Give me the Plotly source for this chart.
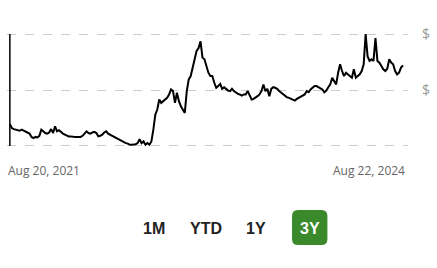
import plotly.graph_objects as go
import pandas as pd

start_date = "2021-08-20"
end_date = "2024-08-22"
prices = [
    0.39, 0.32, 0.30, 0.29, 0.28, 0.27, 0.29, 0.27, 0.26, 0.24, 0.22, 0.16, 0.14, 0.16, 0.15, 0.18, 0.29, 0.26, 0.23, 0.22,
    0.24, 0.30, 0.23, 0.35, 0.26, 0.28, 0.24, 0.22, 0.20, 0.18, 0.17, 0.17, 0.16, 0.16, 0.16, 0.16, 0.16, 0.18, 0.23, 0.26,
    0.23, 0.22, 0.24, 0.25, 0.23, 0.17, 0.18, 0.20, 0.24, 0.26, 0.22, 0.20, 0.18, 0.16, 0.14, 0.12, 0.11, 0.09, 0.07, 0.05,
    0.04, 0.02, 0.02, 0.02, 0.03, 0.05, 0.12, 0.05, 0.08, 0.02, 0.05, 0.02, 0.08, 0.29, 0.56, 0.65, 0.83, 0.77, 0.80, 0.83,
    0.86, 0.92, 1.01, 0.98, 0.77, 0.95, 0.80, 0.71, 0.65, 0.59, 0.98, 1.19, 1.25, 1.43, 1.55, 1.70, 1.75, 1.87, 1.58, 1.55,
    1.43, 1.31, 1.25, 1.25, 1.13, 1.04, 1.07, 1.11, 1.02, 1.05, 1.02, 0.99, 0.98, 1.02, 0.98, 0.95, 0.93, 0.92, 0.90, 0.92,
    0.92, 0.98, 0.89, 0.83, 0.84, 0.86, 0.89, 0.92, 0.98, 1.10, 0.98, 1.02, 0.89, 1.02, 1.05, 1.04, 1.02, 0.98, 0.95, 0.93,
    0.90, 0.87, 0.86, 0.84, 0.83, 0.81, 0.84, 0.86, 0.87, 0.89, 0.92, 0.98, 0.96, 1.01, 1.05, 1.07, 1.07, 1.05, 1.04, 1.01,
    0.96, 0.99, 1.05, 1.10, 1.22, 1.16, 1.10, 1.31, 1.46, 1.34, 1.25, 1.31, 1.28, 1.25, 1.22, 1.37, 1.22, 1.25, 1.28, 1.34,
    1.46, 2.00, 1.60, 1.52, 1.55, 1.52, 1.93, 1.52, 1.49, 1.43, 1.37, 1.34, 1.38, 1.55, 1.49, 1.46, 1.34, 1.28, 1.31, 1.40,
    1.44,
]
dates = pd.date_range(start_date, end_date, periods=len(prices))
y_ticks = [0, 1, 2]
y_tick_text = ["", "$", "$"]
buttons = ["1M", "YTD", "1Y", "3Y"]
active_button = "3Y"

W, H = 437, 268
L, R, T, B = 7, 22, 33, 121
PW, PH = W - L - R, H - T - B

def px(x):
    return (x - L) / PW

def py(y):
    return (H - B - y) / PH

fig = go.Figure()
fig.add_trace(go.Scatter(x=dates, y=prices, mode="lines",
                         line=dict(color="#000000", width=2),
                         hoverinfo="skip"))

shapes = [dict(type="line", xref="x", yref="y", x0=dates[0], x1=dates[0],
               y0=y_ticks[0], y1=y_ticks[-1], line=dict(color="#000000", width=1.5))]

# rounded green box for active button
bx0, bx1, by0, by1, r = 297, 333, 210, 245, 6
def P(x, y):
    return f"{px(x):.5f},{py(y):.5f}"
path = (f"M {P(bx0 + r, by0)} L {P(bx1 - r, by0)} Q {P(bx1, by0)} {P(bx1, by0 + r)} "
        f"L {P(bx1, by1 - r)} Q {P(bx1, by1)} {P(bx1 - r, by1)} "
        f"L {P(bx0 + r, by1)} Q {P(bx0, by1)} {P(bx0, by1 - r)} "
        f"L {P(bx0, by0 + r)} Q {P(bx0, by0)} {P(bx0 + r, by0)} Z")
shapes.append(dict(type="path", xref="paper", yref="paper", path=path,
                   fillcolor="#3a8a2c", line=dict(width=0), layer="below"))

annotations = [
    dict(text="Aug 20, 2021", xref="paper", yref="paper", x=px(6), y=py(170),
         xanchor="left", yanchor="middle", showarrow=False,
         font=dict(family="Open Sans", size=12, color="#666666")),
    dict(text="Aug 22, 2024", xref="paper", yref="paper", x=px(414), y=py(170),
         xanchor="right", yanchor="middle", showarrow=False,
         font=dict(family="Open Sans", size=12, color="#666666")),
]
button_x = [157, 209, 260, 315]
for name, bx in zip(buttons, button_x):
    annotations.append(dict(
        text=f"<b>{name}</b>", xref="paper", yref="paper", x=px(bx), y=py(228),
        xanchor="center", yanchor="middle", showarrow=False,
        font=dict(family="Liberation Sans", size=16,
                  color="#ffffff" if name == active_button else "#222222")))

fig.update_layout(
    width=W, height=H, margin=dict(l=L, r=R, t=T, b=B),
    paper_bgcolor="white", plot_bgcolor="white", showlegend=False,
    xaxis=dict(range=[pd.Timestamp(start_date) - pd.Timedelta(days=8),
                      pd.Timestamp(end_date) + pd.Timedelta(days=14)],
               showgrid=False, showticklabels=False, zeroline=False, showline=False),
    yaxis=dict(range=[-0.02, 2.02], side="right", tickvals=y_ticks, ticktext=y_tick_text,
               showgrid=True, gridcolor="#cccccc", griddash="dash", gridwidth=1,
               zeroline=False, showline=False, ticks="", ticklabelstandoff=13,
               tickfont=dict(family="Open Sans", size=14, color="#999999")),
    shapes=shapes, annotations=annotations,
)
fig.write_html("out.html")
